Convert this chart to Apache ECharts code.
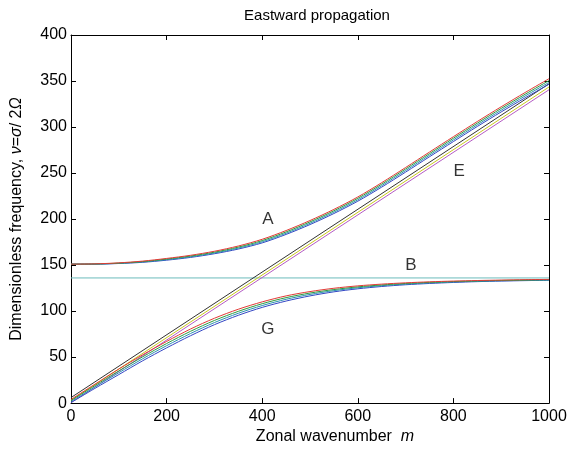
<!DOCTYPE html>
<html lang="en">
  <head>
    <meta charset="UTF-8" />
    <title>Eastward propagation</title>
    <script src="https://cdn.jsdelivr.net/npm/echarts@6/dist/echarts.min.js"></script>
    <style>
      html, body { margin: 0; padding: 0; background: #fff; }
      #main { width: 574px; height: 450px; }
    </style>
  </head>
  <body>
    <div id="main"></div>
    <script>
      // zonal wavenumber grid used for the curved branches
      const mGrid = [0, 50, 100, 150, 200, 250, 300, 350, 400, 450, 500,
        550, 600, 650, 700, 750, 800, 850, 900, 950, 1000];

      // upper branch (A)
      const aRed = [151, 151.3, 152.4, 154.3, 157.2, 160.6, 165, 170.7, 178, 187.5, 198.4,
        210.5, 224, 239.5, 256, 272.8, 289.5, 306, 322, 337.5, 352.5];
      const aGreen = [151, 151.2, 152.1, 153.8, 156.5, 159.8, 164, 169.5, 176.6, 186, 196.9,
        209, 222.5, 237.9, 254.4, 271.1, 287.8, 304.2, 320.2, 335.6, 350.5];
      const aTeal = [151, 151.1, 151.9, 153.4, 155.9, 159, 163.1, 168.4, 175.3, 184.6, 195.4,
        207.5, 220.9, 236.3, 252.7, 269.4, 286, 302.4, 318.3, 333.7, 348.5];
      const aBlue = [151, 151, 151.7, 153, 155.3, 158.3, 162.3, 167.4, 174.1, 183.3, 194,
        206, 219.4, 234.7, 251, 267.7, 284.2, 300.6, 316.4, 331.7, 346.5];

      // lower branch (G)
      const gRed = [4, 20.5, 37, 52.5, 67, 80.5, 92.2, 102, 110, 116.5, 121.2,
        124.8, 127.4, 129.3, 130.7, 131.8, 132.6, 133.2, 133.7, 134.1, 134.4];
      const gGreen = [2.8, 19, 35, 50.3, 64.7, 78, 89.8, 99.7, 108, 114.6, 119.6,
        123.4, 126.3, 128.4, 130, 131.2, 132.1, 132.8, 133.3, 133.7, 134.1];
      const gTeal = [1.7, 17.5, 33, 48.2, 62.4, 75.6, 87.5, 97.6, 106, 112.8, 118.1,
        122.2, 125.3, 127.6, 129.3, 130.6, 131.6, 132.4, 133, 133.4, 133.8];
      const gBlue = [0.5, 16, 31, 46, 60, 73.2, 85.2, 95.4, 104, 110.9, 116.5,
        120.9, 124.2, 126.7, 128.6, 130, 131.1, 132, 132.6, 133.1, 133.5];

      // straight lines (E) and flat line (B)
      const lineM = [0, 1000];
      const eBlack = [6, 347];
      const eYellow = [3, 343.5];
      const ePurple = [0.5, 340.5];
      const bFlat = [136, 136];

      // curve labels
      const labelText = ["A", "B", "E", "G"];
      const labelM = [412, 711, 812, 412];
      const labelV = [200, 150, 252, 80];

      const font = "'Liberation Sans', Arial, sans-serif";
      const pair = (xs, ys) => xs.map((x, i) => [x, ys[i]]);

      const curve = (data, color, smooth) => ({
        type: "line",
        data: data,
        smooth: smooth ? 0.3 : false,
        showSymbol: false,
        symbol: "none",
        silent: true,
        lineStyle: { color: color, width: 1 },
        z: 3,
      });

      const myChart = echarts.init(document.getElementById("main"));

      const tickStyle = { show: true, inside: true, length: 5, lineStyle: { color: "#000" } };

      const option = {
        animation: false,
        backgroundColor: "#fff",
        title: {
          text: "Eastward propagation",
          left: 312,
          textAlign: "center",
          top: 3,
          textStyle: { fontFamily: font, fontWeight: "normal", fontSize: 15, color: "#000" },
        },
        grid: { left: 71, right: 25, top: 35, bottom: 42 },
        xAxis: [
          {
            type: "value",
            min: 0,
            max: 1000,
            interval: 200,
            name: "{n|Zonal wavenumber  }{i|m}",
            nameLocation: "middle",
            nameGap: 23,
            nameTextStyle: {
              padding: [0, 0, 0, 50],
              rich: {
                n: { fontFamily: font, fontSize: 16, color: "#000" },
                i: { fontFamily: font, fontSize: 16, color: "#000", fontStyle: "italic" },
              },
            },
            axisLine: { show: true, lineStyle: { color: "#000" } },
            axisTick: tickStyle,
            axisLabel: {
              fontFamily: font,
              fontSize: 16,
              color: "#000",
              margin: 5,
              formatter: (v) => String(v),
            },
            splitLine: { show: false },
          },
          {
            type: "value",
            position: "top",
            min: 0,
            max: 1000,
            interval: 200,
            axisLine: { show: true, onZero: false, lineStyle: { color: "#000" } },
            axisTick: tickStyle,
            axisLabel: { show: false },
            splitLine: { show: false },
          },
        ],
        yAxis: [
          {
            type: "value",
            min: 0,
            max: 400,
            interval: 50,
            name: "{n|Dimensionless frequency, }{i|ν}{n|=}{i|σ}{n|/ 2}{i|Ω}",
            nameLocation: "middle",
            nameGap: 46,
            nameTextStyle: {
              rich: {
                n: { fontFamily: font, fontSize: 16, color: "#000" },
                i: { fontFamily: font, fontSize: 16, color: "#000", fontStyle: "italic" },
              },
            },
            axisLine: { show: true, lineStyle: { color: "#000" } },
            axisTick: tickStyle,
            axisLabel: { fontFamily: font, fontSize: 16, color: "#000", margin: 4 },
            splitLine: { show: false },
          },
          {
            type: "value",
            position: "right",
            min: 0,
            max: 400,
            interval: 50,
            axisLine: { show: true, onZero: false, lineStyle: { color: "#000" } },
            axisTick: tickStyle,
            axisLabel: { show: false },
            splitLine: { show: false },
          },
        ],
        series: [
          curve(pair(lineM, bFlat), "#6cbcbc", false),
          curve(pair(lineM, ePurple), "#b45cc4", false),
          curve(pair(lineM, eYellow), "#c8c81e", false),
          curve(pair(lineM, eBlack), "#333333", false),
          curve(pair(mGrid, aBlue), "#3346c4", true),
          curve(pair(mGrid, aTeal), "#2a8fb0", true),
          curve(pair(mGrid, aGreen), "#2e9a3e", true),
          curve(pair(mGrid, aRed), "#e23a36", true),
          curve(pair(mGrid, gBlue), "#3346c4", true),
          curve(pair(mGrid, gTeal), "#2a8fb0", true),
          curve(pair(mGrid, gGreen), "#2e9a3e", true),
          curve(pair(mGrid, gRed), "#e23a36", true),
          {
            type: "scatter",
            symbolSize: 0,
            silent: true,
            data: labelText.map((t, i) => ({ value: [labelM[i], labelV[i]], name: t })),
            label: {
              show: true,
              position: "inside",
              formatter: (p) => p.name,
              fontFamily: font,
              fontSize: 17,
              color: "#000",
              textBorderWidth: 0,
            },
            z: 5,
          },
        ],
      };

      myChart.setOption(option);
    </script>
  </body>
</html>
